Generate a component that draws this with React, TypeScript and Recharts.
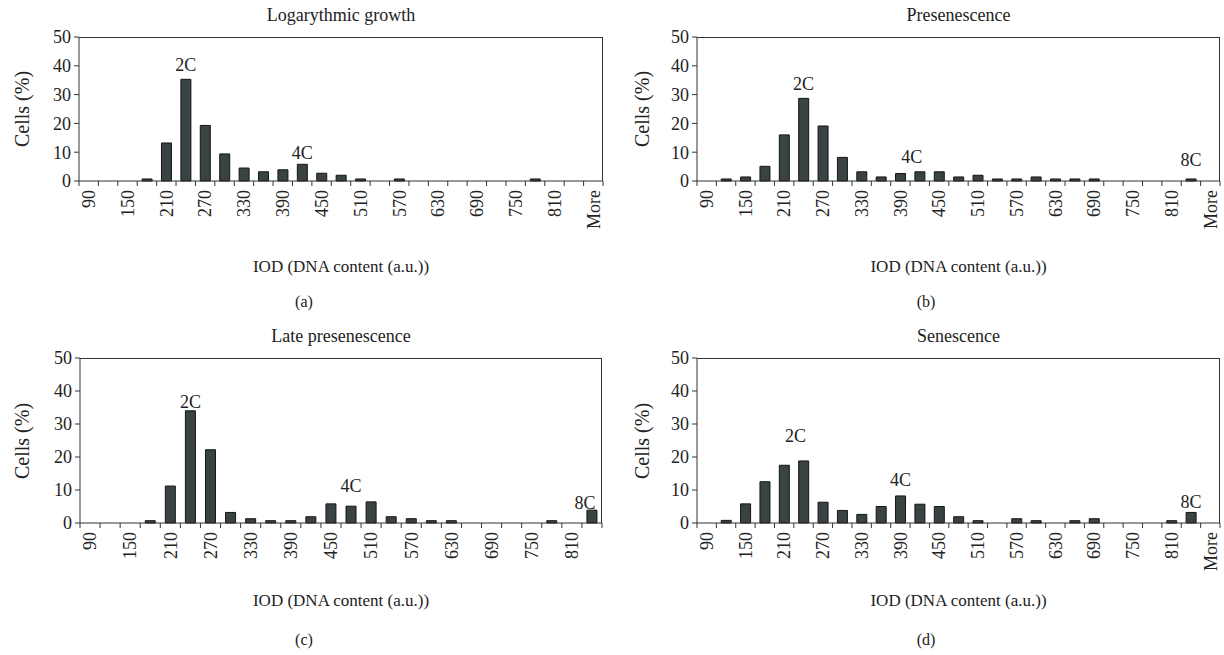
import { BarChart, Bar, XAxis, YAxis, ReferenceDot } from 'recharts'

const bins = [
  '90', '120', '150', '180', '210', '240', '270', '300', '330', '360', '390', '420', '450', '480',
  '510', '540', '570', '600', '630', '660', '690', '720', '750', '780', '810', '840', 'More',
]
const yTicks = [0, 10, 20, 30, 40, 50]

const logGrowth = [0, 0, 0, 0.7, 13.2, 35.3, 19.3, 9.4, 4.5, 3.2, 3.9, 5.8, 2.7, 2.0, 0.7, 0, 0.7, 0, 0, 0, 0, 0, 0, 0.7, 0, 0, 0]
const presen = [0, 0.7, 1.4, 5.1, 16, 28.7, 19.1, 8.2, 3.2, 1.4, 2.6, 3.2, 3.2, 1.4, 2.0, 0.7, 0.7, 1.4, 0.7, 0.7, 0.7, 0, 0, 0, 0, 0.7, 0]
// late presenescence has no "More" bin
const latePresen = [0, 0, 0, 0.7, 11.2, 34, 22.2, 3.2, 1.3, 0.7, 0.7, 1.9, 5.8, 5.1, 6.4, 1.9, 1.3, 0.7, 0.7, 0, 0, 0, 0, 0.7, 0, 3.9]
const senescence = [0, 0.8, 5.8, 12.5, 17.5, 18.8, 6.3, 3.8, 2.6, 5.0, 8.2, 5.7, 5.0, 1.9, 0.7, 0, 1.3, 0.7, 0, 0.7, 1.3, 0, 0, 0, 0.7, 3.2, 0]

// ploidy marks: bin, height (in % units) where the text sits, small horizontal nudge
const marksA = [{ bin: '240', y: 40.5, text: '2C' }, { bin: '420', y: 10, text: '4C' }]
const marksB = [{ bin: '240', y: 33.8, text: '2C' }, { bin: '420', y: 8.6, text: '4C', dx: -8 }, { bin: '840', y: 7.4, text: '8C' }]
const marksC = [{ bin: '240', y: 36.7, text: '2C' }, { bin: '480', y: 11.4, text: '4C' }, { bin: '840', y: 6.3, text: '8C', dx: -7 }]
const marksD = [{ bin: '240', y: 26.5, text: '2C', dx: -8 }, { bin: '390', y: 13.1, text: '4C' }, { bin: '840', y: 6.6, text: '8C' }]

const FONT = '"Liberation Serif", "Times New Roman", serif'
const INK = '#222'
const AXIS = '#333'

function XTick(props: any) {
  const { x, y, payload, index, band, count } = props
  const i = payload?.index ?? index
  const showLabel = i % 2 === 0
  return (
    <g>
      <line x1={x - band / 2} y1={y} x2={x - band / 2} y2={y + 5} stroke={AXIS} />
      {i === count - 1 && <line x1={x + band / 2} y1={y} x2={x + band / 2} y2={y + 5} stroke={AXIS} />}
      {showLabel && (
        <text
          x={x}
          y={y + 9}
          dy="0.35em"
          textAnchor="end"
          transform={`rotate(-90, ${x}, ${y + 9})`}
          fontSize={18}
          fontFamily={FONT}
          fill={INK}
        >
          {payload.value}
        </text>
      )}
    </g>
  )
}

function Txt({ x, y, children, rotate, size = 17 }: any) {
  return (
    <div
      style={{
        position: 'absolute', left: x, top: y,
        transform: `translate(-50%, -50%)${rotate ? ' rotate(-90deg)' : ''}`,
        whiteSpace: 'nowrap', lineHeight: 1, fontSize: size, fontFamily: FONT, color: INK,
      }}
    >
      {children}
    </div>
  )
}

interface Mark { bin: string; y: number; text: string; dx?: number }

interface PanelProps {
  values: number[]
  marks: Mark[]
  title: string
  caption: string
  left: number
  top: number
  plotLeft: number
  plotRight: number
  plotTop: number
  plotBottom: number
  yLabelX: number
  xTitleY: number
  captionX: number
  captionY: number
}

function MarkLabel(props: any) {
  const { viewBox, value, dx = 0 } = props
  const cx = viewBox.x + (viewBox.width || 0) / 2 + dx
  const cy = viewBox.y + (viewBox.height || 0) / 2
  return (
    <text x={cx} y={cy} dy="0.35em" textAnchor="middle" fontSize={18} fontFamily={FONT} fill={INK}>
      {value}
    </text>
  )
}

function Panel(p: PanelProps) {
  const data = p.values.map((v, i) => ({ bin: bins[i], cells: v }))
  const w = 612
  const xAxisH = 62
  const h = p.plotBottom - p.top + xAxisH
  const band = (p.plotRight - p.plotLeft) / data.length
  const cx = (p.plotLeft + p.plotRight) / 2
  return (
    <>
      <Txt x={cx} y={p.plotTop - 22} size={18}>{p.title}</Txt>
      <Txt x={p.yLabelX} y={(p.plotTop + p.plotBottom) / 2} rotate size={20}>Cells (%)</Txt>
      <Txt x={cx} y={p.xTitleY}>IOD (DNA content (a.u.))</Txt>
      <Txt x={p.captionX} y={p.captionY} size={16}>{p.caption}</Txt>
      <div style={{ position: 'absolute', left: p.left, top: p.top }}>
        <BarChart
          width={w}
          height={h}
          data={data}
          barCategoryGap="25%"
          margin={{ top: p.plotTop - p.top, right: p.left + w - p.plotRight, bottom: 0, left: p.plotLeft - p.left - 40 }}
        >
          <XAxis
            dataKey="bin"
            interval={0}
            height={xAxisH}
            tickSize={0}
            tickMargin={0}
            stroke={AXIS}
            tick={<XTick band={band} count={data.length} />}
          />
          <YAxis
            domain={[0, 50]}
            ticks={yTicks}
            width={40}
            tickSize={5}
            tickMargin={3}
            stroke={AXIS}
            tick={{ fontSize: 18, fontFamily: FONT, fill: INK }}
          />
          <Bar dataKey="cells" fill="#3a4343" stroke="#151515" strokeWidth={1} isAnimationActive={false} />
          {p.marks.map((m) => (
            <ReferenceDot
              key={m.text}
              x={m.bin}
              y={m.y}
              r={0}
              fill="none"
              stroke="none"
              ifOverflow="visible"
              label={<MarkLabel value={m.text} dx={m.dx ?? 0} />}
            />
          ))}
        </BarChart>
      </div>
      {/* plot frame: top and right edges */}
      <div
        style={{
          position: 'absolute', left: p.plotLeft, top: p.plotTop - 0.5,
          width: p.plotRight - p.plotLeft, height: p.plotBottom - p.plotTop,
          borderTop: `1px solid ${AXIS}`, borderRight: `1px solid ${AXIS}`,
          boxSizing: 'border-box', pointerEvents: 'none',
        }}
      />
    </>
  )
}

export default function App() {
  return (
    <div style={{ position: 'absolute', left: 0, top: 0, width: 1224, height: 655, background: '#fff', overflow: 'hidden' }}>
      <Panel values={logGrowth} marks={marksA} title="Logarythmic growth" caption="(a)"
        left={0} top={0} plotLeft={79} plotRight={603} plotTop={37} plotBottom={181}
        yLabelX={22} xTitleY={266} captionX={304} captionY={302} />
      <Panel values={presen} marks={marksB} title="Presenescence" caption="(b)"
        left={612} top={0} plotLeft={697} plotRight={1220} plotTop={37} plotBottom={181}
        yLabelX={642} xTitleY={266} captionX={926} captionY={302} />
      <Panel values={latePresen} marks={marksC} title="Late presenescence" caption="(c)"
        left={0} top={320} plotLeft={80} plotRight={602} plotTop={358} plotBottom={523}
        yLabelX={22} xTitleY={600} captionX={304} captionY={640} />
      <Panel values={senescence} marks={marksD} title="Senescence" caption="(d)"
        left={612} top={320} plotLeft={697} plotRight={1220} plotTop={358} plotBottom={523}
        yLabelX={642} xTitleY={600} captionX={926} captionY={640} />
    </div>
  )
}
